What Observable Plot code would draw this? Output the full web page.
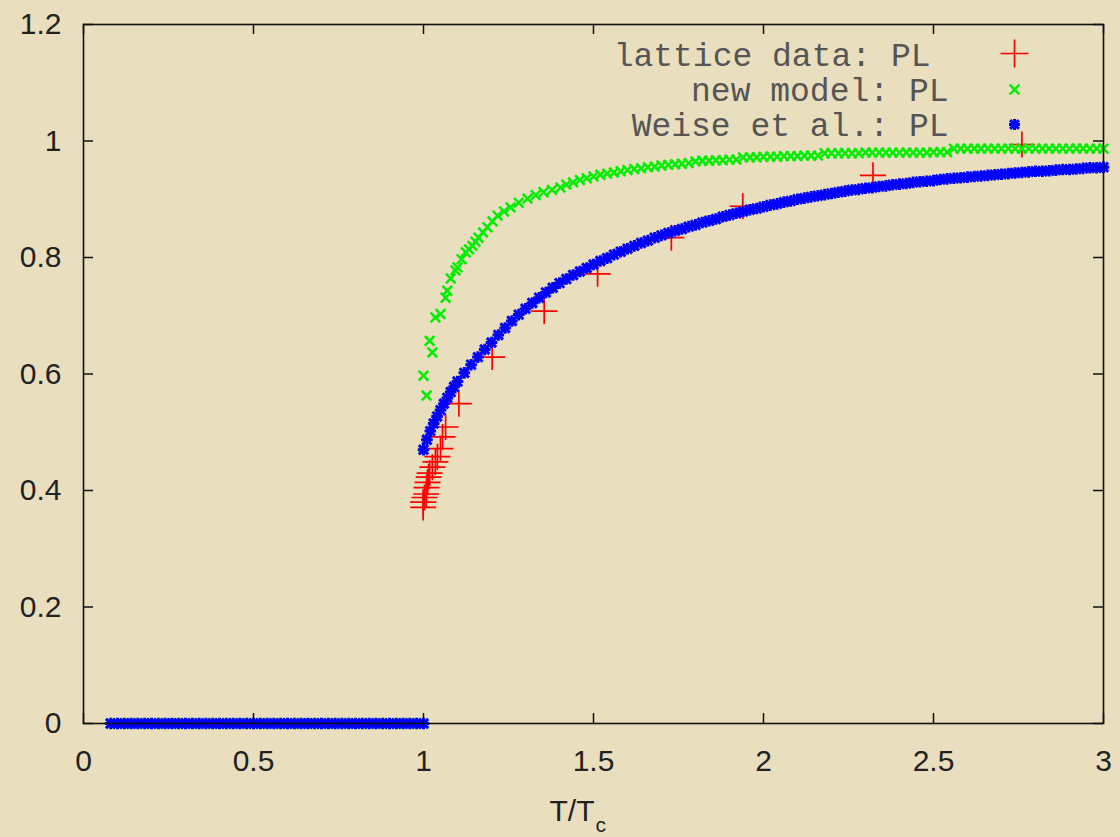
<!DOCTYPE html>
<html>
<head>
<meta charset="utf-8">
<script src="https://cdn.jsdelivr.net/npm/d3@7"></script>
<script src="https://cdn.jsdelivr.net/npm/@observablehq/plot@0.6"></script>
<style>
html, body { margin: 0; padding: 0; background: #e9dfbe; overflow: hidden; }
</style>
</head>
<body>
<div id="chart"></div>
<script>
// ---- tick values ----
const xTicks = [0, 0.5, 1, 1.5, 2, 2.5, 3];
const yTicks = [0, 0.2, 0.4, 0.6, 0.8, 1, 1.2];
const seriesNames = ["lattice data: PL", "new model: PL", "Weise et al.: PL"];
const xLabelMain = "T/T";
const xLabelSub = "c";

// ---- lattice data (red +) ----
const latticeT  = [0.999, 0.999, 1.003, 1.008, 1.009, 1.012, 1.015, 1.018, 1.026, 1.035, 1.041, 1.050, 1.056, 1.065, 1.104, 1.202, 1.355, 1.512, 1.729, 1.939, 2.322, 2.760];
const latticePL = [0.371, 0.380, 0.388, 0.394, 0.405, 0.414, 0.423, 0.430, 0.440, 0.449, 0.458, 0.472, 0.492, 0.509, 0.549, 0.629, 0.708, 0.772, 0.834, 0.888, 0.941, 0.994];

// ---- both models below Tc (PL = 0) ----
const belowTcT = [0.08, 0.10, 0.12, 0.14, 0.16, 0.18, 0.20, 0.22, 0.24, 0.26, 0.28, 0.30, 0.32, 0.34, 0.36, 0.38,
  0.40, 0.42, 0.44, 0.46, 0.48, 0.50, 0.52, 0.54, 0.56, 0.58, 0.60, 0.62, 0.64, 0.66, 0.68, 0.70,
  0.72, 0.74, 0.76, 0.78, 0.80, 0.82, 0.84, 0.86, 0.88, 0.90, 0.92, 0.94, 0.96, 0.98, 1.00];
const belowTcPL = [0, 0, 0, 0, 0, 0, 0, 0, 0, 0, 0, 0, 0, 0, 0, 0,
  0, 0, 0, 0, 0, 0, 0, 0, 0, 0, 0, 0, 0, 0, 0, 0,
  0, 0, 0, 0, 0, 0, 0, 0, 0, 0, 0, 0, 0, 0, 0];

// ---- new model (green x) above Tc ----
const newModelT = [1.000, 1.009, 1.018, 1.026, 1.035, 1.050, 1.065, 1.070, 1.080, 1.094, 1.100, 1.112, 1.124, 1.134, 1.144,
  1.153, 1.162, 1.175, 1.188, 1.203, 1.218, 1.237, 1.256, 1.280, 1.306, 1.330, 1.353, 1.378, 1.403, 1.420,
  1.44, 1.46, 1.48, 1.50, 1.52, 1.54, 1.56, 1.58, 1.60, 1.62,
  1.64, 1.66, 1.68, 1.70, 1.72, 1.74, 1.76, 1.78, 1.80, 1.82,
  1.84, 1.86, 1.88, 1.90, 1.92, 1.94, 1.96, 1.98, 2.00, 2.02,
  2.04, 2.06, 2.08, 2.10, 2.12, 2.14, 2.16, 2.18, 2.20, 2.22,
  2.24, 2.26, 2.28, 2.30, 2.32, 2.34, 2.36, 2.38, 2.40, 2.42,
  2.44, 2.46, 2.48, 2.50, 2.52, 2.54, 2.56, 2.58, 2.60, 2.62,
  2.64, 2.66, 2.68, 2.70, 2.72, 2.74, 2.76, 2.78, 2.80, 2.82,
  2.84, 2.86, 2.88, 2.90, 2.92, 2.94, 2.96, 2.98, 3.00];
const newModelPL = [0.597, 0.563, 0.657, 0.637, 0.697, 0.703, 0.731, 0.743, 0.764, 0.778, 0.783, 0.797, 0.809, 0.814, 0.820,
  0.827, 0.834, 0.843, 0.852, 0.862, 0.872, 0.879, 0.886, 0.894, 0.901, 0.907, 0.912, 0.916, 0.920, 0.925,
  0.929, 0.933, 0.936, 0.939, 0.942, 0.944, 0.946, 0.948, 0.950, 0.952,
  0.953, 0.955, 0.956, 0.958, 0.959, 0.960, 0.961, 0.962, 0.965, 0.966,
  0.966, 0.967, 0.967, 0.968, 0.968, 0.972, 0.972, 0.972, 0.973, 0.973,
  0.973, 0.974, 0.974, 0.974, 0.975, 0.975, 0.975, 0.979, 0.979, 0.979,
  0.979, 0.979, 0.979, 0.980, 0.980, 0.980, 0.980, 0.980, 0.980, 0.980,
  0.980, 0.980, 0.980, 0.981, 0.981, 0.981, 0.987, 0.987, 0.987, 0.987,
  0.987, 0.987, 0.987, 0.987, 0.987, 0.987, 0.987, 0.987, 0.987, 0.987,
  0.987, 0.987, 0.987, 0.987, 0.987, 0.987, 0.987, 0.987, 0.987];

// ---- Weise et al. (blue *) above Tc ----
const weiseT = [1.00, 1.01, 1.02, 1.03, 1.04, 1.05, 1.06, 1.07, 1.08, 1.09, 1.10,
  1.12, 1.14, 1.16, 1.18, 1.20, 1.22, 1.24, 1.26, 1.28, 1.30, 1.32, 1.34, 1.36, 1.38, 1.40, 1.42, 1.44, 1.46, 1.48, 1.50,
  1.52, 1.54, 1.56, 1.58, 1.60, 1.62, 1.64, 1.66, 1.68, 1.70, 1.72, 1.74, 1.76, 1.78, 1.80, 1.82, 1.84, 1.86, 1.88, 1.90,
  1.92, 1.94, 1.96, 1.98, 2.00, 2.02, 2.04, 2.06, 2.08, 2.10, 2.12, 2.14, 2.16, 2.18, 2.20, 2.22, 2.24, 2.26, 2.28, 2.30,
  2.32, 2.34, 2.36, 2.38, 2.40, 2.42, 2.44, 2.46, 2.48, 2.50, 2.52, 2.54, 2.56, 2.58, 2.60, 2.62, 2.64, 2.66, 2.68, 2.70,
  2.72, 2.74, 2.76, 2.78, 2.80, 2.82, 2.84, 2.86, 2.88, 2.90, 2.92, 2.94, 2.96, 2.98, 3.00];
const weisePL = [0.470, 0.487, 0.502, 0.515, 0.527, 0.538, 0.549, 0.559, 0.569, 0.578, 0.587,
  0.602, 0.616, 0.629, 0.642, 0.654, 0.667, 0.679, 0.691, 0.702, 0.712, 0.722, 0.731, 0.740, 0.748, 0.756, 0.763, 0.770, 0.776, 0.782, 0.788,
  0.794, 0.799, 0.805, 0.810, 0.815, 0.820, 0.825, 0.829, 0.834, 0.838, 0.842, 0.846, 0.849, 0.853, 0.856, 0.860, 0.863, 0.866, 0.870, 0.873,
  0.876, 0.879, 0.882, 0.884, 0.887, 0.890, 0.892, 0.895, 0.897, 0.900, 0.902, 0.904, 0.906, 0.908, 0.910, 0.912, 0.914, 0.916, 0.917, 0.919,
  0.920, 0.922, 0.923, 0.925, 0.926, 0.927, 0.929, 0.930, 0.931, 0.932, 0.934, 0.935, 0.936, 0.937, 0.938, 0.939, 0.940, 0.941, 0.942, 0.943,
  0.944, 0.945, 0.946, 0.947, 0.948, 0.948, 0.949, 0.950, 0.951, 0.951, 0.952, 0.953, 0.954, 0.954, 0.955];

// ---- build tables ----
const toRows = (ts, ps) => ts.map((t, i) => ({T: t, PL: ps[i]}));
const lattice = toRows(latticeT, latticePL);
const newModel = toRows(belowTcT, belowTcPL).concat(toRows(newModelT, newModelPL));
const weise = toRows(belowTcT, belowTcPL).concat(toRows(weiseT, weisePL));

// ---- gnuplot-like point symbols ----
const plusSym = {draw(ctx, size) { const r = Math.sqrt(size / Math.PI);
  ctx.moveTo(-r, 0); ctx.lineTo(r, 0); ctx.moveTo(0, -r); ctx.lineTo(0, r); }};
const timesSym = {draw(ctx, size) { const r = Math.sqrt(size / Math.PI);
  ctx.moveTo(-r, -r); ctx.lineTo(r, r); ctx.moveTo(-r, r); ctx.lineTo(r, -r); }};
const starSym = {draw(ctx, size) { const r = Math.sqrt(size / Math.PI); const q = r * 0.8;
  ctx.moveTo(-r, 0); ctx.lineTo(r, 0); ctx.moveTo(0, -r); ctx.lineTo(0, r);
  ctx.moveTo(-q, -q); ctx.lineTo(q, q); ctx.moveTo(-q, q); ctx.lineTo(q, -q); }};

const RED = "#ff0000", GREEN = "#00ee00", BLUE = "#0000ff";
const tickFont = "'Liberation Sans', Arial, sans-serif";
const legendFont = "'Courier New', 'Liberation Mono', monospace";

const FRAME_W = 1020, FRAME_H = 699, TICK = 10;

const chart = Plot.plot({
  width: 1120,
  height: 837,
  marginLeft: 83,
  marginRight: 17,
  marginTop: 24,
  marginBottom: 114,
  style: {background: "#e9dfbe", color: "#222", overflow: "visible"},
  x: {domain: [0, 3]},
  y: {domain: [0, 1.2]},
  marks: [
    // axis tick labels
    Plot.axisX(xTicks, {tickSize: 0, tickPadding: 26, fontSize: 30, fontFamily: tickFont, fill: "#222", tickFormat: d => `${d}`, label: null}),
    Plot.axisY(yTicks, {tickSize: 0, tickPadding: 22, fontSize: 30, fontFamily: tickFont, fill: "#222", tickFormat: d => `${d}`, label: null}),
    // data
    Plot.dot(lattice, {x: "T", y: "PL", r: 13, symbol: plusSym, stroke: RED, fill: "none", strokeWidth: 1.7}),
    Plot.dot(newModel, {x: "T", y: "PL", r: 4.8, symbol: timesSym, stroke: GREEN, fill: "none", strokeWidth: 2.5}),
    Plot.dot(weise, {x: "T", y: "PL", r: 5.8, symbol: starSym, stroke: BLUE, fill: "none", strokeWidth: 3}),
    // inward ticks on all four sides
    Plot.ruleX(xTicks, {insetTop: FRAME_H - TICK, stroke: "#111", strokeWidth: 1.5}),
    Plot.ruleX(xTicks, {insetBottom: FRAME_H - TICK, stroke: "#111", strokeWidth: 1.5}),
    Plot.ruleY(yTicks, {insetRight: FRAME_W - TICK, stroke: "#111", strokeWidth: 1.5}),
    Plot.ruleY(yTicks, {insetLeft: FRAME_W - TICK, stroke: "#111", strokeWidth: 1.5}),
    Plot.frame({stroke: "#111", strokeWidth: 1.6}),
    // x axis label with subscript
    Plot.text([xLabelMain], {frameAnchor: "bottom", dx: 1, dy: 97, textAnchor: "end", lineAnchor: "bottom", fontSize: 30, fontFamily: tickFont, fill: "#222"}),
    Plot.text([xLabelSub], {frameAnchor: "bottom", dx: 2, dy: 108, textAnchor: "start", lineAnchor: "bottom", fontSize: 21, fontFamily: tickFont, fill: "#222"}),
    // legend
    Plot.text([seriesNames[0]], {frameAnchor: "top-right", dx: -173, dy: 41, textAnchor: "end", lineAnchor: "bottom", fontSize: 33, fontFamily: legendFont, fill: "#555"}),
    Plot.text([seriesNames[1]], {frameAnchor: "top-right", dx: -155, dy: 76, textAnchor: "end", lineAnchor: "bottom", fontSize: 33, fontFamily: legendFont, fill: "#555"}),
    Plot.text([seriesNames[2]], {frameAnchor: "top-right", dx: -155, dy: 111, textAnchor: "end", lineAnchor: "bottom", fontSize: 33, fontFamily: legendFont, fill: "#555"}),
    Plot.dot([seriesNames[0]], {frameAnchor: "top-right", dx: -89, dy: 29, r: 14, symbol: plusSym, stroke: RED, fill: "none", strokeWidth: 1.7}),
    Plot.dot([seriesNames[1]], {frameAnchor: "top-right", dx: -89, dy: 65, r: 4.8, symbol: timesSym, stroke: GREEN, fill: "none", strokeWidth: 2.5}),
    Plot.dot([seriesNames[2]], {frameAnchor: "top-right", dx: -89, dy: 100, r: 5.5, symbol: starSym, stroke: BLUE, fill: "none", strokeWidth: 3})
  ]
});
document.getElementById("chart").appendChild(chart);
</script>
</body>
</html>
